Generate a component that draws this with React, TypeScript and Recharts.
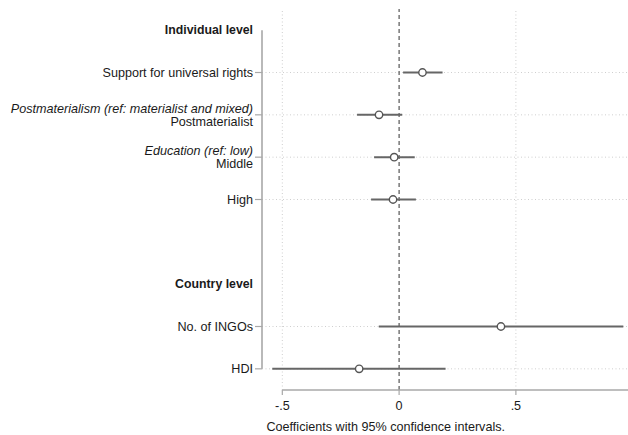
import React from 'react';
import { ScatterChart, Scatter, XAxis, YAxis, ErrorBar, ReferenceLine } from 'recharts';

// Row layout of the y axis (0 = top)
const rowTitles = ['Individual level', 'Support for universal rights', 'Postmaterialist', 'Middle', 'High', '', 'Country level', 'No. of INGOs', 'HDI'];
const rowNotes = ['', '', 'Postmaterialism (ref: materialist and mixed)', 'Education (ref: low)', '', '', '', '', ''];
const rowIsHeader = [true, false, false, false, false, false, true, false, false];
const rowHasTick = [false, true, true, true, true, false, false, true, true];

// Coefficients and 95% confidence intervals
const variables = ['Support for universal rights', 'Postmaterialist', 'Middle', 'High', 'No. of INGOs', 'HDI'];
const variableRows = [1, 2, 3, 4, 7, 8];
const coefs = [0.1, -0.086, -0.021, -0.026, 0.436, -0.171];
const ciLow = [0.017, -0.18, -0.107, -0.12, -0.087, -0.543];
const ciHigh = [0.186, 0.013, 0.067, 0.072, 0.96, 0.199];

const xTicks = [-0.5, 0, 0.5];
const xTickLabels = ['-.5', '0', '.5'];
const X_MIN = -0.587;
const X_MAX = 0.98;
const Y_MIN = -0.5;
const Y_MAX = 8.5;

const data = variables.map((v, i) => ({
  name: v,
  x: coefs[i],
  y: variableRows[i],
  err: [coefs[i] - ciLow[i], ciHigh[i] - coefs[i]],
}));

const FONT = '"Liberation Sans", Arial, Helvetica, sans-serif';
const FS = 12.6;
const TEXT = '#1a1a1a';
const AXIS = '#a8a8a8';
const GRID = '#cfcfcf';

const YTick = (props: any) => {
  const { x, y, payload } = props;
  const i = payload.value as number;
  const title = rowTitles[i];
  const note = rowNotes[i];
  const bold = rowIsHeader[i];
  return (
    <g>
      {rowHasTick[i] && <line x1={x + 2} x2={x + 9} y1={y} y2={y} stroke={AXIS} strokeWidth={1.2} />}
      {note ? (
        <>
          <text x={x} y={y - 6.5} dy="0.35em" textAnchor="end" fontFamily={FONT} fontSize={FS} fontStyle="italic" fill={TEXT}>{note}</text>
          <text x={x} y={y + 6.5} dy="0.35em" textAnchor="end" fontFamily={FONT} fontSize={FS} fill={TEXT}>{title}</text>
        </>
      ) : (
        <text x={x} y={y} dy="0.35em" textAnchor="end" fontFamily={FONT} fontSize={bold ? 12.3 : FS} fontWeight={bold ? 'bold' : 'normal'} fill={TEXT}>{title}</text>
      )}
    </g>
  );
};

const Dot = (props: any) => {
  const { cx, cy } = props;
  return <circle cx={cx} cy={cy} r={3.7} fill="#fff" stroke="#555" strokeWidth={1.4} />;
};

const NoteLabel = (props: any) => {
  const { viewBox } = props;
  return (
    <text x={viewBox.x + 4.5} y={viewBox.y + 40.5} fontFamily={FONT} fontSize={FS} fill={TEXT}>
      Coefficients with 95% confidence intervals.
    </text>
  );
};

export default function App() {
  return (
    <div style={{ position: 'absolute', left: 0, top: 0, background: '#fff' }}>
      <ScatterChart width={628} height={435} margin={{ top: 9, right: 0, bottom: 0, left: 0 }}>
        {xTicks.filter((t) => t !== 0).map((t) => (
          <ReferenceLine key={'vx' + t} x={t} stroke={GRID} strokeDasharray="1 2.5" strokeWidth={1} />
        ))}
        {variableRows.map((r) => (
          <ReferenceLine key={'hy' + r} y={r} stroke={GRID} strokeDasharray="1 2.5" strokeWidth={1} />
        ))}
        <ReferenceLine x={0} stroke="#555" strokeDasharray="4 3" strokeWidth={1.2} />
        <ReferenceLine segment={[{ x: X_MIN, y: 0 }, { x: X_MIN, y: 8 }]} stroke={AXIS} strokeWidth={1.6} ifOverflow="visible" />
        <ReferenceLine segment={[{ x: -0.5, y: Y_MAX }, { x: X_MAX, y: Y_MAX }]} stroke={AXIS} strokeWidth={1.6} ifOverflow="visible" />
        <XAxis
          type="number"
          dataKey="x"
          domain={[X_MIN, X_MAX]}
          allowDataOverflow
          ticks={xTicks}
          tickFormatter={(v: number) => xTickLabels[xTicks.indexOf(v)]}
          axisLine={false}
          tickLine={{ stroke: AXIS, strokeWidth: 1.2 }}
          tickSize={5}
          tickMargin={6}
          height={45}
          tick={{ fontFamily: FONT, fontSize: FS, fill: TEXT }}
          label={<NoteLabel />}
        />
        <YAxis
          type="number"
          dataKey="y"
          domain={[Y_MIN, Y_MAX]}
          allowDataOverflow
          reversed
          ticks={[0, 1, 2, 3, 4, 5, 6, 7, 8]}
          interval={0}
          axisLine={false}
          tickLine={false}
          tickSize={8}
          tickMargin={1}
          width={262}
          tick={<YTick />}
        />
        <Scatter data={data} shape={<Dot />} isAnimationActive={false}>
          <ErrorBar dataKey="err" direction="x" width={0} stroke="#666" strokeWidth={2} isAnimationActive={false} />
        </Scatter>
      </ScatterChart>
    </div>
  );
}
